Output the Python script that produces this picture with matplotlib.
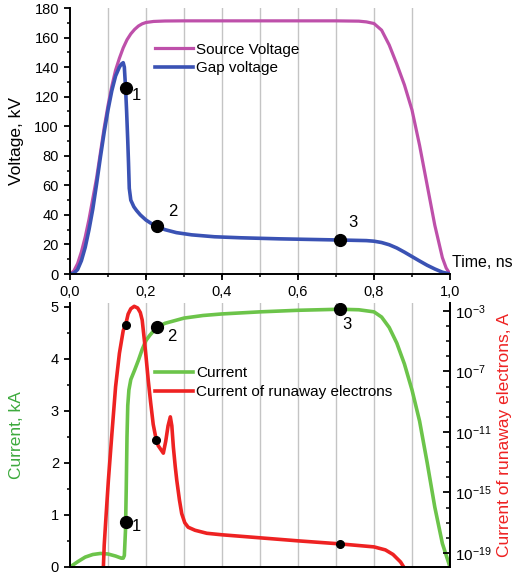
import numpy as np
import matplotlib

matplotlib.use("Agg")
import matplotlib.pyplot as plt
from matplotlib.ticker import FixedLocator, FuncFormatter, NullFormatter, LogFormatterSciNotation

plt.rcParams["font.family"] = ["Liberation Sans", "DejaVu Sans"]
plt.rcParams["mathtext.fontset"] = "custom"
plt.rcParams["mathtext.rm"] = "Liberation Sans"
plt.rcParams["mathtext.it"] = "Liberation Sans:italic"

# --- top panel: voltages (kV) vs time (ns)
t_source = [0, 0.01, 0.02, 0.03, 0.04, 0.05, 0.06, 0.07, 0.08, 0.09, 0.10, 0.11, 0.12,
            0.13, 0.14, 0.15, 0.16, 0.17, 0.18, 0.19, 0.20, 0.22, 0.25, 0.30, 0.50, 0.70,
            0.76, 0.78, 0.80, 0.82, 0.84, 0.86, 0.88, 0.90, 0.92, 0.94, 0.96, 0.98, 0.99, 1.0]
v_source = [0, 2, 7, 15, 25, 37, 51, 65, 82, 99, 114, 127, 138, 146, 153, 158.5, 162.5,
            165.5, 167.8, 169.3, 170.2, 170.9, 171.2, 171.3, 171.3, 171.3, 171.1, 170.6,
            169.5, 165, 155, 142, 128, 111, 87, 60, 33, 11, 4, 0]

t_gap = [0, 0.01, 0.02, 0.03, 0.04, 0.05, 0.06, 0.07, 0.08, 0.09, 0.10, 0.11, 0.12, 0.13,
         0.135, 0.14, 0.143, 0.146, 0.149, 0.152, 0.154, 0.156, 0.16, 0.168, 0.175, 0.185,
         0.20, 0.215, 0.23, 0.25, 0.28, 0.32, 0.38, 0.45, 0.55, 0.65, 0.71, 0.78, 0.80,
         0.82, 0.84, 0.86, 0.88, 0.90, 0.92, 0.94, 0.96, 0.98, 1.0]
v_gap = [0, 0.5, 3, 9, 18, 30, 44, 61, 79, 96, 111, 124, 134, 140, 142, 143, 140, 127,
         110, 90, 75, 58, 50, 45.5, 43, 40, 36.5, 34, 32, 30, 28, 26.5, 25.2, 24.5, 23.8,
         23.3, 23, 22.6, 22.2, 21.3, 19.8, 17.6, 14.8, 11.8, 8.8, 5.9, 3.4, 1.2, 0]

# --- bottom panel: discharge current (kA) and runaway electron current (A, log)
t_current = [0, 0.02, 0.04, 0.06, 0.08, 0.10, 0.12, 0.135, 0.14, 0.143, 0.146, 0.148,
             0.15, 0.152, 0.155, 0.16, 0.17, 0.18, 0.19, 0.20, 0.21, 0.228, 0.25, 0.30,
             0.35, 0.40, 0.50, 0.60, 0.71, 0.76, 0.80, 0.82, 0.84, 0.86, 0.88, 0.90, 0.92,
             0.94, 0.96, 0.98, 1.0]
i_current = [0, 0.1, 0.19, 0.24, 0.26, 0.25, 0.21, 0.17, 0.17, 0.22, 0.7, 1.5, 2.5, 3.1,
             3.4, 3.6, 3.78, 3.97, 4.18, 4.35, 4.45, 4.6, 4.68, 4.78, 4.83, 4.86, 4.9,
             4.93, 4.95, 4.94, 4.9, 4.8, 4.6, 4.3, 3.9, 3.4, 2.8, 2.0, 1.15, 0.45, 0]

t_runaway = [0.085, 0.087, 0.090, 0.095, 0.101, 0.110, 0.120, 0.130, 0.140, 0.1465, 0.153,
             0.160, 0.169, 0.178, 0.185, 0.190, 0.196, 0.200, 0.206, 0.212, 0.219, 0.226,
             0.232, 0.2456, 0.252, 0.258, 0.264, 0.268, 0.272, 0.277, 0.281, 0.288, 0.294,
             0.302, 0.311, 0.329, 0.36, 0.40, 0.50, 0.60, 0.71, 0.80, 0.83, 0.85, 0.87,
             0.885, 0.895]
log_runaway = [-21, -20.5, -18.5, -16.5, -14.2, -11.2, -8.0, -5.8, -4.3, -3.9, -3.2, -2.85,
               -2.69, -2.8, -3.1, -3.6, -5.0, -6.0, -7.6, -9.0, -10.5, -11.4, -11.9, -12.4,
               -11.6, -10.6, -10.0, -10.6, -12.0, -13.3, -14.2, -15.5, -16.4, -17.0, -17.3,
               -17.5, -17.7, -17.8, -18.0, -18.2, -18.4, -18.6, -18.8, -19.1, -19.6, -20.2,
               -21]

# numbered states 1, 2, 3
mark_t = [0.1465, 0.228, 0.71]
mark_v = [125.6, 32.5, 23]
mark_i = [0.87, 4.6, 4.955]
mark_run_t = [0.1465, 0.226, 0.71]
mark_run_log = [-3.9, -11.5, -18.4]
mark_labels = ["1", "2", "3"]

C_SRC = "#BE50AA"
C_GAP = "#3A52B4"
C_CUR = "#6CC44A"
C_RUN = "#EE2222"

fig = plt.figure(figsize=(5.13, 5.74), dpi=100)
ax1 = fig.add_axes([70 / 513, 1 - 274 / 574, 380 / 513, 266 / 574])
ax2 = fig.add_axes([70 / 513, 1 - 567 / 574, 380 / 513, 264 / 574])
ax3 = ax2.twinx()

comma = FuncFormatter(lambda x, pos: f"{x:.1f}".replace(".", ","))
for ax in (ax1, ax2):
    ax.set_xlim(0, 1.0)
    ax.xaxis.set_major_locator(FixedLocator(np.arange(0, 1.01, 0.2)))
    ax.xaxis.set_minor_locator(FixedLocator(np.arange(0.1, 0.95, 0.1)))
    ax.xaxis.remove_overlapping_locs = False
    ax.grid(axis="x", which="minor", color="#C4C4C4", lw=1.0)
    ax.set_axisbelow(True)
    ax.spines["top"].set_visible(False)
    for s in ax.spines.values():
        s.set_linewidth(1.4)
    ax.tick_params(labelsize=10.5, width=1.3, length=4.5, direction="out")
    ax.tick_params(which="minor", width=1.1, length=2.5, direction="out")

# top panel
ax1.spines["right"].set_visible(False)
ax1.plot(t_source, v_source, color=C_SRC, lw=2.3, label="Source Voltage")
ax1.plot(t_gap, v_gap, color=C_GAP, lw=2.6, label="Gap voltage")
ax1.set_ylim(0, 180)
ax1.set_yticks(np.arange(0, 181, 20))
ax1.yaxis.set_minor_locator(FixedLocator(np.arange(10, 180, 20)))
ax1.xaxis.set_major_formatter(comma)
ax1.set_ylabel("Voltage, kV", fontsize=12.5)
ax1.yaxis.set_label_coords(-0.12, 0.5)
ax1.text(1.005, 0.015, "Time, ns", transform=ax1.transAxes, ha="left", va="bottom",
         fontsize=11.5)
ax1.plot(mark_t, mark_v, "o", color="black", ms=8.5, zorder=5)
top_offsets = [(11, -7), (16, 14), (13, 18)]
for x, y, lab, off in zip(mark_t, mark_v, mark_labels, top_offsets):
    ax1.annotate(lab, (x, y), xytext=off, textcoords="offset pixels",
                 ha="center", va="center", fontsize=12)
ax1.legend(loc="upper left", bbox_to_anchor=(0.224, 0.87), frameon=False, fontsize=11,
           borderpad=0, borderaxespad=0, handlelength=2.5, handletextpad=0.2,
           labelspacing=0.3)

# bottom panel
ax2.plot(t_current, i_current, color=C_CUR, lw=2.6, label="Current")
ax2.set_ylim(0, 5.07)
ax2.set_yticks(np.arange(0, 5.1, 1))
ax2.yaxis.set_minor_locator(FixedLocator(np.arange(0.5, 5, 1)))
ax2.tick_params(axis="x", which="both", length=0, labelbottom=False)
ax2.set_ylabel("Current, kA", fontsize=12.5, color="#3DAA3D")
ax2.yaxis.set_label_coords(-0.12, 0.5)
ax2.plot(mark_t, mark_i, "o", color="black", ms=8.5, zorder=5)
bot_offsets = [(11, -5), (15, -9), (7, -16)]
for x, y, lab, off in zip(mark_t, mark_i, mark_labels, bot_offsets):
    ax2.annotate(lab, (x, y), xytext=off, textcoords="offset pixels",
                 ha="center", va="center", fontsize=12)

ax3.plot(t_runaway, 10.0 ** np.array(log_runaway), color=C_RUN, lw=2.6,
         label="Current of runaway electrons")
ax3.plot(mark_run_t, 10.0 ** np.array(mark_run_log), "o", color="black", ms=5.5, zorder=5)
ax3.set_yscale("log")
ax3.set_ylim(10 ** -19.93, 10 ** -2.47)
ax3.yaxis.set_major_locator(FixedLocator([1e-3, 1e-7, 1e-11, 1e-15, 1e-19]))
ax3.yaxis.set_major_formatter(LogFormatterSciNotation())
ax3.yaxis.set_minor_locator(FixedLocator(10.0 ** np.arange(-20, -2)))
ax3.yaxis.set_minor_formatter(NullFormatter())
ax3.spines["top"].set_visible(False)
for s in ax3.spines.values():
    s.set_linewidth(1.4)
ax3.tick_params(axis="y", labelsize=11, width=1.3, length=5, direction="in")
ax3.tick_params(axis="y", which="minor", width=1.1, length=3, direction="in")
ax3.set_ylabel("Current of runaway electrons, A", fontsize=12.5, color=C_RUN)
ax3.yaxis.set_label_coords(1.125, 0.5)

handles = ax2.get_legend_handles_labels()[0] + ax3.get_legend_handles_labels()[0]
ax3.legend(handles, [h.get_label() for h in handles], loc="upper left",
           bbox_to_anchor=(0.224, 0.76), frameon=False, fontsize=11, borderpad=0,
           borderaxespad=0, handlelength=2.5, handletextpad=0.2, labelspacing=0.3)

fig.savefig("out.png", dpi=100)
